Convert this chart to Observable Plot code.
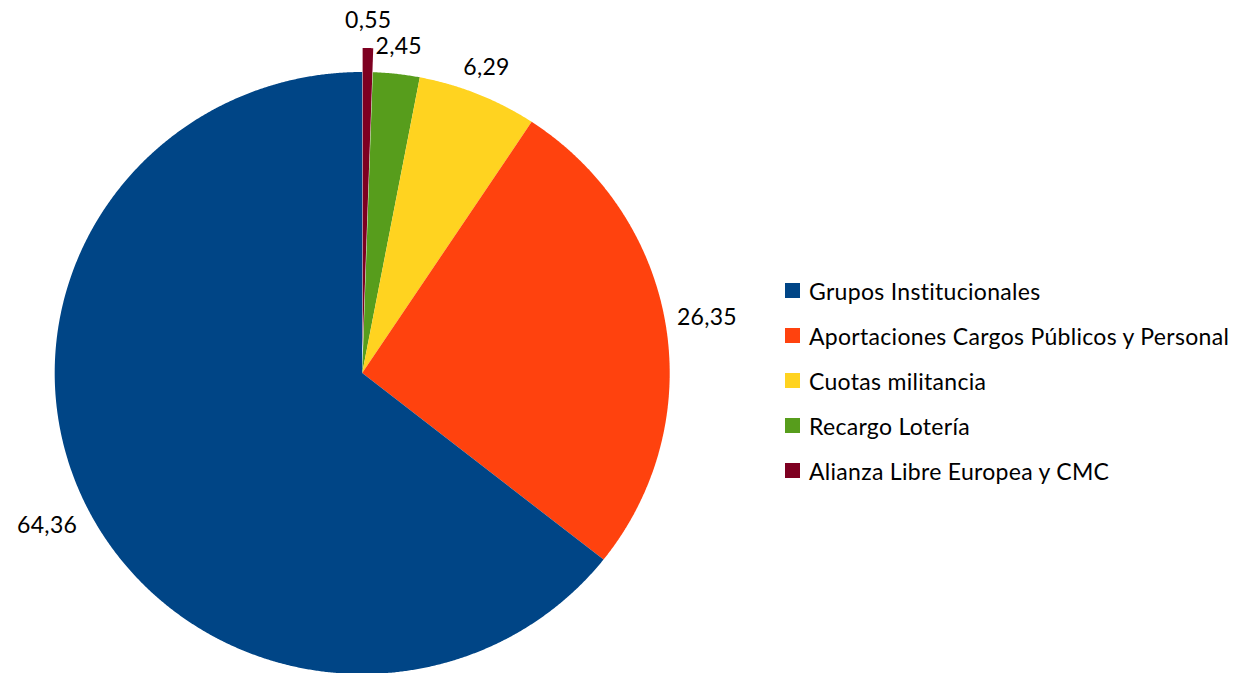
<!DOCTYPE html>
<html>
<head>
<meta charset="utf-8">
<script src="https://cdn.jsdelivr.net/npm/d3@7"></script>
<script src="https://cdn.jsdelivr.net/npm/@observablehq/plot@0.6"></script>
<style>
  html, body { margin: 0; padding: 0; background: #fff; }
  #wrap { display: flex; align-items: flex-start; width: 1242px; height: 673px; overflow: hidden; font-family: Lato, "Open Sans", sans-serif; }
  #legend { margin-left: 10px; padding-top: 268px; }
  .row { height: 45px; display: flex; align-items: center; font-size: 23px; letter-spacing: 0.3px; color: #000; white-space: nowrap; }
  .sw { width: 15px; height: 15px; margin-right: 9px; flex: none; }
</style>
</head>
<body>
<div id="wrap"><div id="chart"></div><div id="legend"></div></div>
<script>
// Data (clockwise from 12 o'clock)
const categories = ["Alianza Libre Europea y CMC", "Recargo Lotería", "Cuotas militancia", "Aportaciones Cargos Públicos y Personal", "Grupos Institucionales"];
const values = [0.55, 2.45, 6.29, 26.35, 64.36];
const labels = ["0,55", "2,45", "6,29", "26,35", "64,36"];
const colors = ["#7e0021", "#579d1c", "#ffd320", "#ff420e", "#004586"];
const exploded = ["Alianza Libre Europea y CMC"];
const legendOrder = ["Grupos Institucionales", "Aportaciones Cargos Públicos y Personal", "Cuotas militancia", "Recargo Lotería", "Alianza Libre Europea y CMC"];

// Geometry (pixels)
const W = 775, H = 673;
const cx = 361.7, cy = 372.5, rx = 307.5, ry = 301;
const explodePx = 24;

const total = d3.sum(values);
const pts = [];
const labelPts = [];
let acc = 0;
categories.forEach((name, i) => {
  const a0 = acc / total * 2 * Math.PI;
  acc += values[i];
  const a1 = acc / total * 2 * Math.PI;
  const mid = (a0 + a1) / 2;
  const ex = exploded.includes(name) ? explodePx : 0;
  const ox = Math.sin(mid) * ex / rx, oy = Math.cos(mid) * ex / ry;
  const n = Math.max(2, Math.ceil((a1 - a0) / (Math.PI / 720)));
  pts.push({name, x: ox, y: oy});
  for (let k = 0; k <= n; k++) {
    const a = a0 + (a1 - a0) * k / n;
    pts.push({name, x: ox + Math.sin(a), y: oy + Math.cos(a)});
  }
  pts.push({name, x: ox, y: oy});
  // label: centre of the text box pushed outside the rim along the mid-angle
  const s = Math.sin(mid), c = Math.cos(mid);
  const halfW = labels[i].length * 5.5, halfH = 13, gap = 14;
  const rimX = s * rx, rimY = c * ry;
  const rim = Math.hypot(rimX, rimY);
  const box = Math.min(Math.abs(s) > 1e-6 ? halfW / Math.abs(s) : Infinity, Math.abs(c) > 1e-6 ? halfH / Math.abs(c) : Infinity);
  const dist = rim + gap + box;
  labelPts.push({
    text: labels[i],
    x: ox + s * dist / rx,
    y: oy + c * dist / ry
  });
});

const chart = Plot.plot({
  width: W, height: H,
  marginTop: 0, marginBottom: 0, marginLeft: 0, marginRight: 0,
  x: {domain: [-1, 1], range: [cx - rx, cx + rx], axis: null},
  y: {domain: [-1, 1], range: [cy + ry, cy - ry], axis: null},
  color: {domain: categories, range: colors},
  style: {fontFamily: "Lato, sans-serif", background: "transparent"},
  marks: [
    Plot.line(pts, {x: "x", y: "y", z: "name", fill: "name", stroke: null}),
    Plot.text(labelPts, {x: "x", y: "y", text: "text", fontSize: 23, fill: "#000", textAnchor: "middle", lineAnchor: "middle"})
  ]
});
chart.querySelectorAll("text").forEach(t => t.style.letterSpacing = "0.3px");
document.getElementById("chart").appendChild(chart);

const legend = document.getElementById("legend");
legendOrder.forEach(name => {
  const row = document.createElement("div");
  row.className = "row";
  const sw = document.createElement("span");
  sw.className = "sw";
  sw.style.background = colors[categories.indexOf(name)];
  row.appendChild(sw);
  row.appendChild(document.createTextNode(name));
  legend.appendChild(row);
});
</script>
</body>
</html>
